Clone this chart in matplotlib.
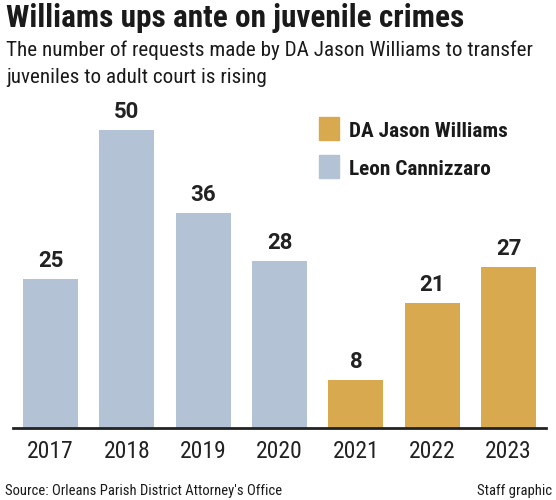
import matplotlib
matplotlib.use("Agg")
import matplotlib.pyplot as plt
from matplotlib import font_manager
from matplotlib.patches import Rectangle

years = ["2017", "2018", "2019", "2020", "2021", "2022", "2023"]
values = [25, 50, 36, 28, 8, 21, 27]
da = ["Leon Cannizzaro"] * 4 + ["DA Jason Williams"] * 3
colors_map = {"Leon Cannizzaro": "#b4c2d6", "DA Jason Williams": "#d9a94f"}
legend_order = ["DA Jason Williams", "Leon Cannizzaro"]

names = {f.name for f in font_manager.fontManager.ttflist}
fam = [n for n in ["Roboto Condensed", "Liberation Sans Narrow", "Roboto", "DejaVu Sans"] if n in names]
plt.rcParams['font.family'] = fam
valfam = [n for n in ["Roboto", "DejaVu Sans"] if n in names]

W, H = 556, 500
fig = plt.figure(figsize=(W / 100, H / 100), dpi=100)
ax = fig.add_axes([13 / W, (H - 428) / H, 533 / W, 328 / H])
x = list(range(len(years)))
ax.bar(x, values, width=0.72, color=[colors_map[d] for d in da])
ax.set_xlim(-0.491, 6.491)
ax.set_ylim(0, 55)
for s in ["top", "right", "left"]:
    ax.spines[s].set_visible(False)
ax.spines["bottom"].set_linewidth(2)
ax.spines["bottom"].set_color("#222222")
ax.set_yticks([])
ax.set_xticks(x)
ax.set_xticklabels(years, fontsize=17, color="#222222")
ax.tick_params(axis="x", length=0, pad=9)
for xi, v in zip(x, values):
    ax.annotate(str(v), (xi, v), xytext=(0, 5), textcoords="offset points",
                ha="center", va="bottom", fontsize=16, fontweight="bold",
                color="#222222", family=valfam)

fig.text(6 / W, 1 - 27 / H, "Williams ups ante on juvenile crimes", fontsize=22.5,
         fontweight="bold", va="baseline", ha="left", color="#1a1a1a")
fig.text(6 / W, 1 - 56 / H, "The number of requests made by DA Jason Williams to transfer",
         fontsize=15.2, va="baseline", ha="left", color="#1a1a1a")
fig.text(6 / W, 1 - 83 / H, "juveniles to adult court is rising",
         fontsize=15.2, va="baseline", ha="left", color="#1a1a1a")
fig.text(5 / W, 1 - 495 / H, "Source: Orleans Parish District Attorney's Office", fontsize=10.5,
         va="baseline", ha="left", color="#1a1a1a")
fig.text(552 / W, 1 - 495 / H, "Staff graphic", fontsize=10.5, va="baseline", ha="right", color="#1a1a1a")

for i, name in enumerate(legend_order):
    y0 = 117 + i * 38
    fig.patches.append(Rectangle((319 / W, 1 - (y0 + 23) / H), 20 / W, 23 / H,
                                 transform=fig.transFigure, color=colors_map[name]))
    fig.text(349 / W, 1 - (y0 + 20) / H, name, fontsize=15.3, fontweight="bold",
             va="baseline", ha="left", color="#1a1a1a")

fig.savefig("out.png", dpi=100)
